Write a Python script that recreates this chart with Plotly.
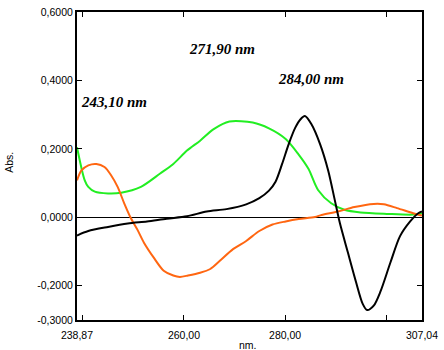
import plotly.graph_objects as go

# ---- data ----
green_x = [238.87, 240.4, 241.1, 242.4, 245.0, 247.6, 251.5, 255.3, 257.9, 260.6, 263.2, 265.8, 269.0,
           273.6, 276.8, 280.1, 282.6, 284.6, 286.5, 289.1, 291.7, 294.9, 300.1, 305.3, 307.04]
green_y = [0.205, 0.108, 0.089, 0.075, 0.070, 0.072, 0.089, 0.128, 0.156, 0.195, 0.224, 0.257, 0.280,
           0.277, 0.260, 0.229, 0.185, 0.142, 0.080, 0.041, 0.022, 0.014, 0.010, 0.008, 0.012]

orange_x = [238.87, 239.75, 241.1, 242.7, 244.3, 245.6, 246.9, 248.2, 249.5, 250.8, 252.1, 254.0, 256.0,
            257.9, 259.2, 260.8, 263.2, 265.2, 267.1, 269.7, 272.3, 274.9, 277.5, 280.1, 282.7, 285.9,
            287.2, 290.4, 293.7, 297.5, 299.5, 302.1, 305.3, 307.04]
orange_y = [0.108, 0.137, 0.152, 0.156, 0.147, 0.123, 0.089, 0.041, -0.002, -0.036, -0.074, -0.117, -0.156,
            -0.170, -0.174, -0.170, -0.162, -0.151, -0.127, -0.093, -0.069, -0.040, -0.021, -0.012, -0.005, 0.001,
            0.007, 0.017, 0.030, 0.039, 0.038, 0.027, 0.012, 0.005]

black_x = [238.87, 241.1, 245.0, 248.9, 252.7, 256.6, 260.6, 264.5, 268.4, 272.3, 274.9, 276.8, 278.1,
           279.4, 280.7, 282.0, 283.0, 283.9, 285.2, 286.9, 288.5, 289.8, 290.8, 292.4, 294.0, 295.3,
           296.2, 297.5, 298.8, 300.8, 302.7, 304.7, 306.3, 307.04]
black_y = [-0.053, -0.040, -0.028, -0.018, -0.012, -0.004, 0.003, 0.017, 0.024, 0.038, 0.056, 0.078, 0.104,
           0.156, 0.214, 0.262, 0.286, 0.296, 0.272, 0.214, 0.137, 0.051, -0.016, -0.103, -0.189, -0.252,
           -0.271, -0.258, -0.218, -0.132, -0.055, -0.012, 0.012, 0.017]

x_min, x_max = 238.87, 307.04
x_tick_marks = [240, 260, 280, 300]
x_label_vals = [238.87, 260.0, 280.0, 307.04]
x_label_text = ["238,87", "260,00", "280,00", "307,04"]
y_tick_vals = [0.6, 0.4, 0.2, 0.0, -0.2, -0.3]
y_tick_text = ["0,6000", "0,4000", "0,2000", "0,0000", "-0,2000", "-0,3000"]

peak_labels = ["243,10 nm", "271,90 nm", "284,00 nm"]

fig = go.Figure()
fig.add_trace(go.Scatter(x=green_x, y=green_y, mode="lines",
                         line=dict(color="#22ee22", width=2, shape="spline", smoothing=0.8), showlegend=False))
fig.add_trace(go.Scatter(x=orange_x, y=orange_y, mode="lines",
                         line=dict(color="#ff6611", width=2, shape="spline", smoothing=0.8), showlegend=False))
fig.add_trace(go.Scatter(x=black_x, y=black_y, mode="lines",
                         line=dict(color="#000000", width=2, shape="spline", smoothing=0.8), showlegend=False))
# invisible trace to activate the label axis
fig.add_trace(go.Scatter(x=[x_min, x_max], y=[0, 0], xaxis="x2", mode="lines",
                         line=dict(width=0), opacity=0, hoverinfo="skip", showlegend=False))

tick_font = dict(family="Liberation Sans, Arial, sans-serif", size=10.5, color="#000000")

fig.update_layout(
    width=444, height=350,
    margin=dict(l=77, r=13, t=6, b=30),
    paper_bgcolor="white", plot_bgcolor="white",
    xaxis=dict(range=[x_min, x_max], tickvals=x_tick_marks, showticklabels=False,
               ticks="inside", ticklen=5, tickcolor="black", tickwidth=1,
               showline=True, linecolor="black", linewidth=2, mirror="ticks",
               showgrid=False, zeroline=False),
    xaxis2=dict(range=[x_min, x_max], overlaying="x", anchor="y", side="bottom",
                tickvals=x_label_vals, ticktext=x_label_text, ticks="",
                ticklabelstandoff=7, ticklabeloverflow="allow",
                showline=False, showgrid=False, zeroline=False, tickfont=tick_font),
    yaxis=dict(range=[-0.3, 0.6], tickvals=y_tick_vals, ticktext=y_tick_text,
               ticks="inside", ticklen=5, tickcolor="black", tickwidth=1,
               showline=True, linecolor="black", linewidth=2, mirror="ticks",
               showgrid=False, zeroline=True, zerolinecolor="black", zerolinewidth=1,
               tickfont=tick_font),
)

ann_font = dict(family="Liberation Serif, Times New Roman, serif", size=15, color="#000000")
ann_pos = [(115, 98), (226, 44), (317, 74)]
for txt, (px, py) in zip(peak_labels, ann_pos):
    fig.add_annotation(text="<b><i>" + txt + "</i></b>", xref="paper", yref="paper",
                       x=(px - 77) / 354, y=(320 - py) / 314, showarrow=False,
                       xanchor="center", yanchor="middle", font=ann_font)

fig.add_annotation(text="Abs.", xref="paper", yref="paper", x=(7 - 77) / 354, y=(320 - 159) / 314,
                   textangle=-90, showarrow=False, xanchor="center", yanchor="middle",
                   font=dict(family="Liberation Sans, Arial, sans-serif", size=10.5, color="black"))
fig.add_annotation(text="nm.", xref="paper", yref="paper", x=(252 - 77) / 354, y=(320 - 345) / 314,
                   showarrow=False, xanchor="center", yanchor="middle",
                   font=dict(family="Liberation Sans, Arial, sans-serif", size=10.5, color="black"))

fig.write_html("out.html")
